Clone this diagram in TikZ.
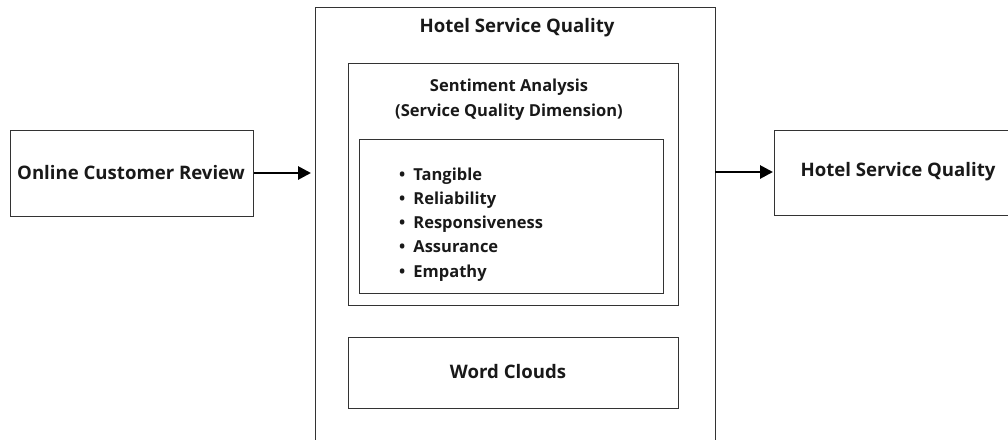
\documentclass[tikz,border=0pt]{standalone}
\usepackage{fontspec}
\setmainfont{Open Sans}
\usetikzlibrary{arrows.meta}
\begin{document}
\begin{tikzpicture}[x=1pt,y=-1pt,
  box/.style={draw=black!80,line width=1.3pt},
  lbl/.style={font=\bfseries\fontsize{18.6}{24}\selectfont,text=black!90,inner sep=0pt},
  sml/.style={font=\bfseries\fontsize{16.5}{24.5}\selectfont,text=black!90,inner sep=0pt},
  conn/.style={line width=2.8pt,-{Triangle[length=13pt,width=13pt]}}]
\useasboundingbox (0,0) rectangle (1008,439);
\clip (0,0) rectangle (1008,439);
\fill[white] (0,0) rectangle (1008,439);
% outer box
\node[box,minimum width=400pt,minimum height=450pt,anchor=north west,inner sep=0pt] (hsq) at (315,7) {};
\node[lbl] (title) at (517,28) {Hotel Service Quality};
% sentiment box
\node[box,minimum width=330pt,minimum height=242pt,anchor=north west,inner sep=0pt] (sa) at (348,63) {};
\node[sml,align=center] (satext) at (509,99.5) {Sentiment Analysis\\(Service Quality Dimension)};
% list box
\node[box,minimum width=304pt,minimum height=154pt,anchor=north west,inner sep=0pt] (list) at (359,139) {};
\node[sml,anchor=west,align=left,font=\bfseries\fontsize{16.5}{24.2}\selectfont] (items) at (399,224.5) {\textbullet\hspace{8pt}Tangible\\\textbullet\hspace{8pt}Reliability\\\textbullet\hspace{8pt}Responsiveness\\\textbullet\hspace{8pt}Assurance\\\textbullet\hspace{8pt}Empathy};
% word clouds
\node[box,minimum width=330pt,minimum height=71pt,anchor=north west,inner sep=0pt] (wc) at (348,337) {};
\node[lbl] (wctext) at (508,372) {Word Clouds};
% left box
\node[box,minimum width=243pt,minimum height=86pt,anchor=north west,inner sep=0pt] (ocr) at (10,130) {};
\node[lbl] (ocrtext) at (131,173) {Online Customer Review};
% right box
\node[box,minimum width=250pt,minimum height=85pt,anchor=north west,inner sep=0pt] (out) at (774,130) {};
\node[lbl] (outtext) at (898,172) {Hotel Service Quality};
% arrows
\coordinate (a1) at (ocr.east |- 0,173);
\coordinate (a1e) at (311,173);
\draw[conn] (a1) -- (a1e);
\coordinate (a2) at (715,172);
\coordinate (a2e) at (773,172);
\draw[conn] (a2) -- (a2e);
\end{tikzpicture}
\end{document}
